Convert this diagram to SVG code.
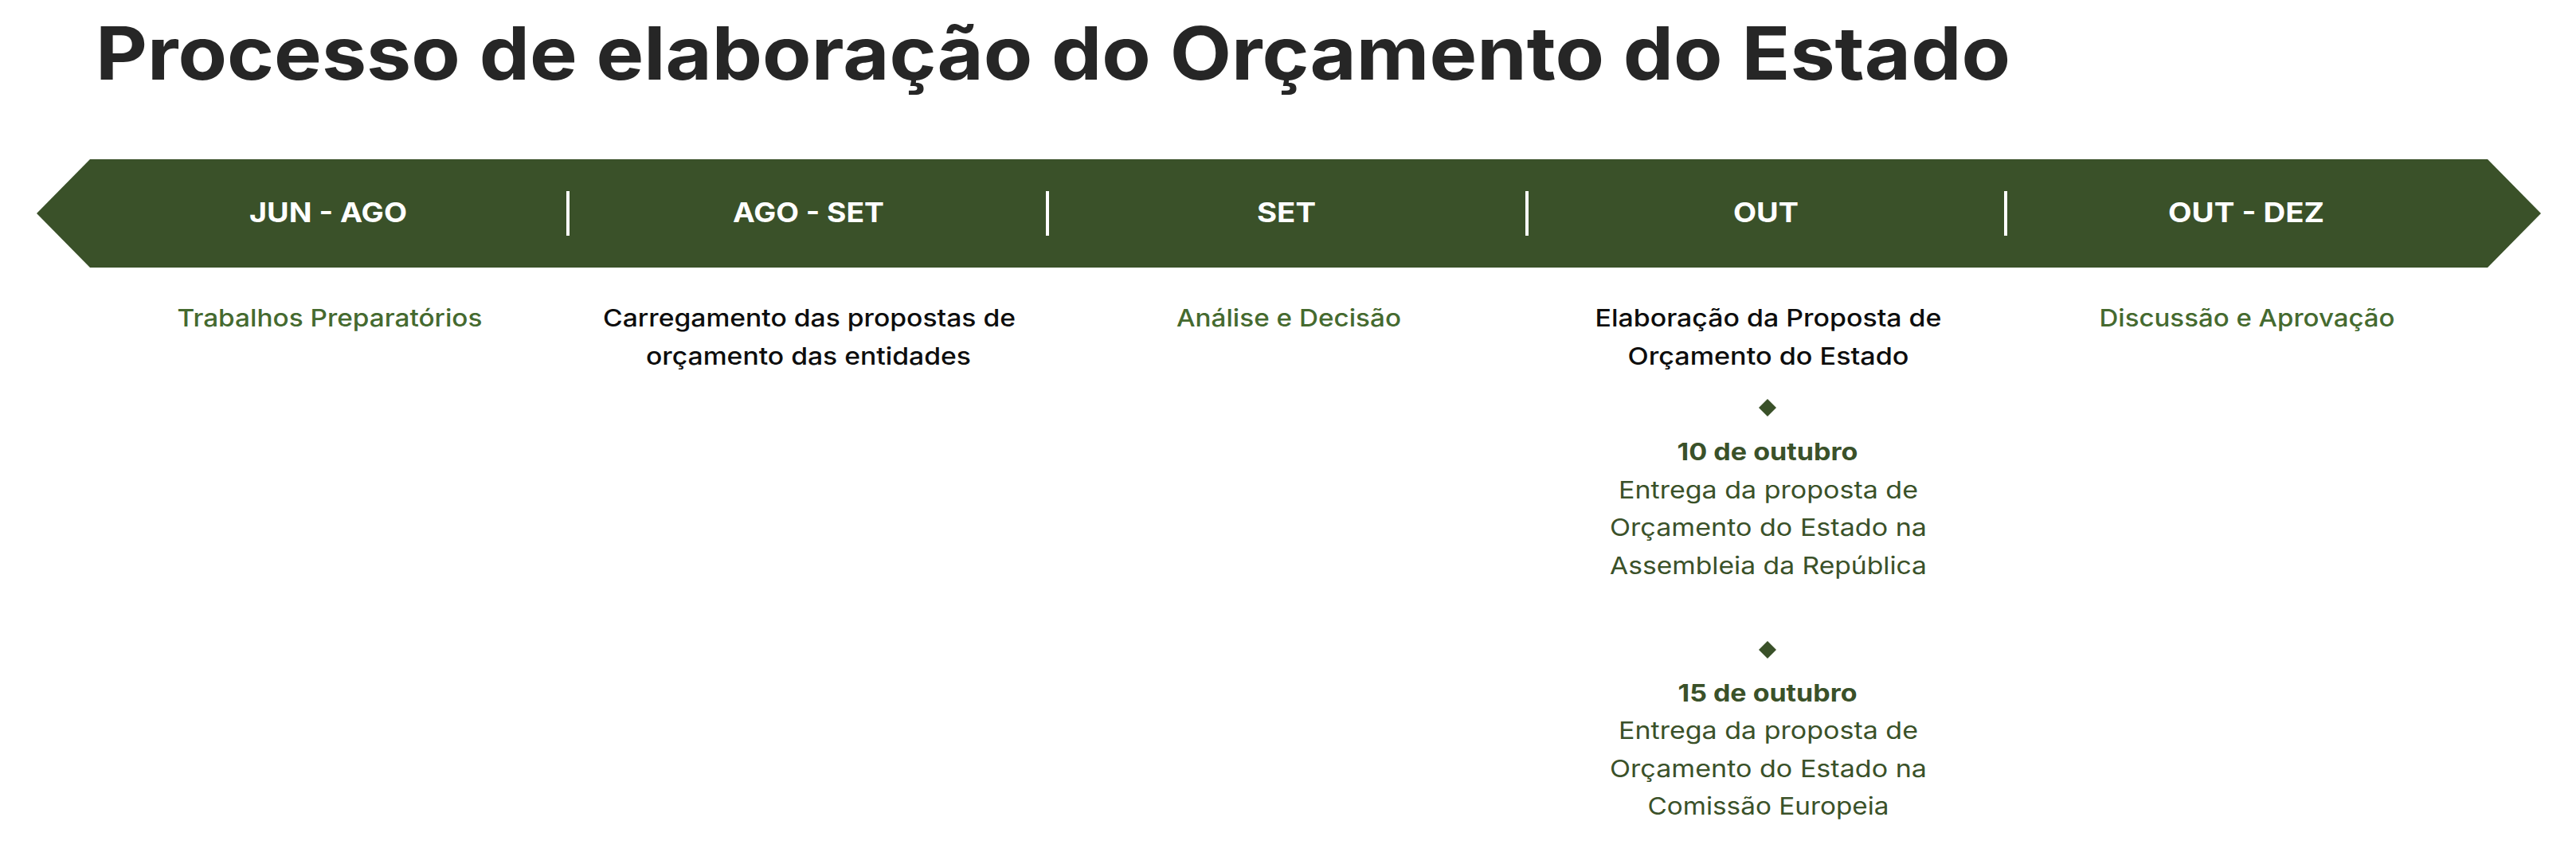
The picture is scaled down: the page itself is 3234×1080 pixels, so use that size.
<svg xmlns="http://www.w3.org/2000/svg" width="3234" height="1080" viewBox="0 0 3234 1080">
<style>
.title{font-family:Inter,"Liberation Sans",sans-serif;font-weight:700;font-size:92px;fill:#262626}
.hdr{font-family:Inter,"Liberation Sans",sans-serif;font-weight:700;font-size:34px;fill:#ffffff;text-anchor:middle}
.sub{font-family:Inter,"Liberation Sans",sans-serif;font-weight:500;font-size:30px;text-anchor:middle}
.green{fill:#456a2f}
.black{fill:#0d0d0d}
.date{font-family:Inter,"Liberation Sans",sans-serif;font-weight:700;font-size:30px;fill:#3a5129;text-anchor:middle}
.body{font-family:Inter,"Liberation Sans",sans-serif;font-weight:400;font-size:30px;fill:#3a5129;text-anchor:middle}
.div{fill:#ffffff}
.dia{fill:#3a5129}
</style>
<rect width="3234" height="1080" fill="#ffffff"/>
<text id="title" class="title" x="120" y="100" textLength="2404" lengthAdjust="spacingAndGlyphs">Processo de elaboração do Orçamento do Estado</text>
<g id="band">
<polygon points="46,268 113,200 3123,200 3190,268 3123,336 113,336" fill="#3a5129"/>
<rect class="div" x="711" y="240" width="4" height="56"/>
<rect class="div" x="1313" y="240" width="4" height="56"/>
<rect class="div" x="1915" y="240" width="4" height="56"/>
<rect class="div" x="2516" y="240" width="4" height="56"/>
</g>
<g id="connectors"></g>
<g id="col-jun-ago">
<text class="hdr" x="412" y="279" textLength="198" lengthAdjust="spacingAndGlyphs">JUN - AGO</text>
<text class="sub green" x="414" y="410" textLength="383" lengthAdjust="spacingAndGlyphs">Trabalhos Preparatórios</text>
</g>
<g id="col-ago-set">
<text class="hdr" x="1015" y="279" textLength="190" lengthAdjust="spacingAndGlyphs">AGO - SET</text>
<text class="sub black" x="1016" y="410" textLength="518" lengthAdjust="spacingAndGlyphs">Carregamento das propostas de</text>
<text class="sub black" x="1015" y="458" textLength="408" lengthAdjust="spacingAndGlyphs">orçamento das entidades</text>
</g>
<g id="col-set">
<text class="hdr" x="1615" y="279" textLength="74" lengthAdjust="spacingAndGlyphs">SET</text>
<text class="sub green" x="1618" y="410" textLength="282" lengthAdjust="spacingAndGlyphs">Análise e Decisão</text>
</g>
<g id="col-out">
<text class="hdr" x="2217" y="279" textLength="82" lengthAdjust="spacingAndGlyphs">OUT</text>
<text class="sub black" x="2220" y="410" textLength="435" lengthAdjust="spacingAndGlyphs">Elaboração da Proposta de</text>
<text class="sub black" x="2220" y="458" textLength="353" lengthAdjust="spacingAndGlyphs">Orçamento do Estado</text>
</g>
<g id="milestone-10-out">
<polygon class="dia" points="2219,501 2230,512 2219,523 2208,512"/>
<text class="date" x="2219" y="578" textLength="227" lengthAdjust="spacingAndGlyphs">10 de outubro</text>
<text class="body" x="2220" y="626" textLength="376" lengthAdjust="spacingAndGlyphs">Entrega da proposta de</text>
<text class="body" x="2220" y="673" textLength="398" lengthAdjust="spacingAndGlyphs">Orçamento do Estado na</text>
<text class="body" x="2220" y="721" textLength="398" lengthAdjust="spacingAndGlyphs">Assembleia da República</text>
</g>
<g id="milestone-15-out">
<polygon class="dia" points="2219,805 2230,816 2219,827 2208,816"/>
<text class="date" x="2219" y="881" textLength="225" lengthAdjust="spacingAndGlyphs">15 de outubro</text>
<text class="body" x="2220" y="928" textLength="376" lengthAdjust="spacingAndGlyphs">Entrega da proposta de</text>
<text class="body" x="2220" y="976" textLength="398" lengthAdjust="spacingAndGlyphs">Orçamento do Estado na</text>
<text class="body" x="2220" y="1023" textLength="303" lengthAdjust="spacingAndGlyphs">Comissão Europeia</text>
</g>
<g id="col-out-dez">
<text class="hdr" x="2820" y="279" textLength="196" lengthAdjust="spacingAndGlyphs">OUT - DEZ</text>
<text class="sub green" x="2821" y="410" textLength="371" lengthAdjust="spacingAndGlyphs">Discussão e Aprovação</text>
</g>
</svg>
